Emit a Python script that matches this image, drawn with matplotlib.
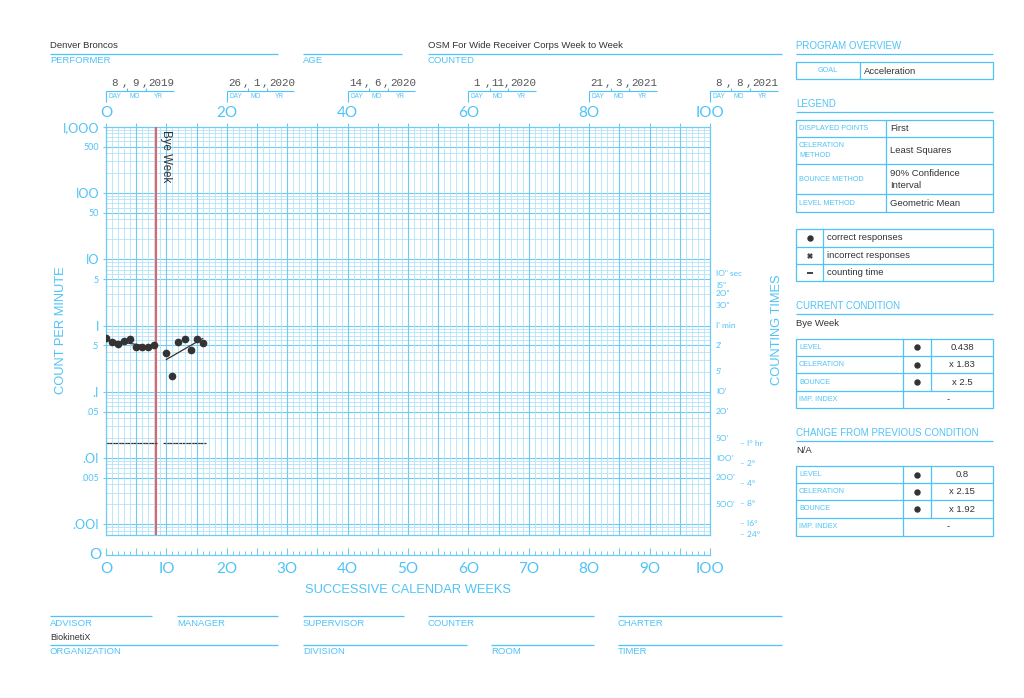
import numpy as np
import matplotlib
matplotlib.use("Agg")
import matplotlib.pyplot as plt
from matplotlib.patches import Rectangle

# ---- data -------------------------------------------------------------
weeks_before = [0, 1, 2, 3, 4, 5, 6, 7, 8]
correct_before = [0.64, 0.56, 0.52, 0.59, 0.62, 0.47, 0.47, 0.48, 0.50]
weeks_after = [10, 11, 12, 13, 14, 15, 16]
correct_after = [0.38, 0.17, 0.57, 0.62, 0.42, 0.62, 0.55]
counting_time_min = 60
phase_change_week = 8.35
phase_label = "Bye Week"

date_weeks = [0, 20, 40, 60, 80, 100]
date_days = ["8", "26", "14", "1", "21", "8"]
date_months = ["9", "1", "6", "11", "3", "8"]
date_years = ["2019", "2020", "2020", "2020", "2021", "2021"]

top_weeks = [0, 20, 40, 60, 80, 100]
top_labels = ["O", "2O", "4O", "6O", "8O", "IOO"]
bottom_weeks = list(range(0, 101, 5))
bottom_labels = ["O", "", "IO", "", "2O", "", "3O", "", "4O", "", "5O", "",
                 "6O", "", "7O", "", "8O", "", "9O", "", "IOO"]

y_major_vals = [1000, 100, 10, 1, 0.1, 0.01, 0.001]
y_major_labels = ["I,OOO", "IOO", "IO", "I", ".I", ".OI", ".OOI"]
y_minor_vals = [500, 50, 5, 0.5, 0.05, 0.005]
y_minor_labels = ["500", "50", "5", ".5", ".05", ".005"]

count_minutes = [1 / 6, 1 / 4, 1 / 3, 1 / 2, 1, 2, 5, 10, 20, 50, 100, 200, 500]
count_minute_labels = ['IO" sec', 'I5"', '2O"', '3O"', "I' min", "2'", "5'",
                       "IO'", "2O'", "5O'", "IOO'", "2OO'", "5OO'"]
count_hours = [1, 2, 4, 8, 16, 24]
count_hour_labels = ["I° hr", "2°", "4°", "8°", "I6°", "24°"]

legend_rows = [("DISPLAYED POINTS", "First"),
               ("CELERATION\nMETHOD", "Least Squares"),
               ("BOUNCE METHOD", "90% Confidence\nInterval"),
               ("LEVEL METHOD", "Geometric Mean")]
symbol_rows = ["correct responses", "incorrect responses", "counting time"]
current_rows = [("LEVEL", "0.438"), ("CELERATION", "x 1.83"), ("BOUNCE", "x 2.5")]
change_rows = [("LEVEL", "0.8"), ("CELERATION", "x 2.15"), ("BOUNCE", "x 1.92")]

# ---- style ------------------------------------------------------------
BLUE = "#4fc3f7"
GRID_MAJOR = "#6fcbf3"
GRID_MINOR = "#b2e3f8"
INK = "#333333"
RED = "#e06666"
SANS = ["Liberation Sans", "DejaVu Sans"]
ROUND = ["Lato", "DejaVu Sans"]
MONO = ["Liberation Mono", "DejaVu Sans Mono"]

W_PX, H_PX = 1024, 698
AX_L, AX_R, AX_T, AX_B = 106, 710, 126.7, 534.8
PX_WEEK = (AX_R - AX_L) / 100

fig = plt.figure(figsize=(W_PX / 100, H_PX / 100), dpi=100)
page = fig.add_axes([0, 0, 1, 1])
page.set_xlim(0, W_PX)
page.set_ylim(H_PX, 0)
page.axis("off")


def txt(x, y, s, size=6.8, color=BLUE, ha="left", family=SANS, **kw):
    page.text(x, y, s, fontsize=size, color=color, ha=ha, va="center", family=family, **kw)


def rule(x0, x1, y, lw=0.9, color=BLUE):
    page.plot([x0, x1], [y, y], color=color, lw=lw, solid_capstyle="butt")


def vrule(x, y0, y1, lw=0.9, color=BLUE):
    page.plot([x, x], [y0, y1], color=color, lw=lw, solid_capstyle="butt")


def box(x0, x1, ys):
    page.add_patch(Rectangle((x0, ys[0]), x1 - x0, ys[-1] - ys[0], fill=False, ec=BLUE, lw=0.9))
    for y in ys[1:-1]:
        rule(x0, x1, y)


# ---- header form ------------------------------------------------------
txt(50, 46, "Denver Broncos", color=INK)
txt(428, 46, "OSM For Wide Receiver Corps Week to Week", color=INK)
for x0, x1, name in [(50, 278, "PERFORMER"), (303, 402, "AGE"), (428, 782, "COUNTED")]:
    rule(x0, x1, 54)
    txt(x0, 60.5, name)

# ---- footer form ------------------------------------------------------
for x0, x1, name in [(50, 152, "ADVISOR"), (177, 278, "MANAGER"), (303, 404, "SUPERVISOR"),
                     (428, 594, "COUNTER"), (618, 782, "CHARTER")]:
    rule(x0, x1, 616)
    txt(x0, 623, name)
txt(50, 637, "BiokinetiX", color=INK, size=6.5)
for x0, x1, name in [(50, 278, "ORGANIZATION"), (303, 467, "DIVISION"),
                     (491, 594, "ROOM"), (618, 782, "TIMER")]:
    rule(x0, x1, 645)
    txt(x0, 652, name)

# ---- right panel ------------------------------------------------------
PL, PR = 796, 993
txt(PL, 46, "PROGRAM OVERVIEW", size=7)
rule(PL, PR, 54)
box(PL, PR, [62.3, 79.3])
vrule(860.3, 62.3, 79.3)
txt(828, 71, "GOAL", size=5.2, ha="center")
txt(864, 71, "Acceleration", color=INK)

txt(PL, 104, "LEGEND", size=7)
rule(PL, PR, 112.3)
leg_ys = [120, 137.3, 164, 194.3, 212.3]
box(PL, PR, leg_ys)
vrule(886.3, leg_ys[0], leg_ys[-1])
for (name, val), y0, y1 in zip(legend_rows, leg_ys[:-1], leg_ys[1:]):
    yc = (y0 + y1) / 2
    txt(799, yc, name, size=5.2, linespacing=1.55)
    txt(890, yc, val, color=INK, linespacing=1.45)

sym_ys = [229.3, 246.7, 264.3, 281]
box(PL, PR, sym_ys)
vrule(823.3, sym_ys[0], sym_ys[-1])
sym_c = [(a + b) / 2 for a, b in zip(sym_ys[:-1], sym_ys[1:])]
page.plot([809.5], [sym_c[0]], "o", ms=3.6, color=INK)
page.plot([809.5], [sym_c[1]], "X", ms=4.2, color=INK, mew=0)
page.plot([809.5], [sym_c[2]], "_", ms=5, mew=1.3, color=INK)
for name, yc in zip(symbol_rows, sym_c):
    txt(827, yc, name, color=INK)


def condition_block(y_title, title, note, ys, rows):
    txt(PL, y_title, title, size=7)
    rule(PL, PR, y_title + 7.7)
    txt(PL, y_title + 17.3, note, color=INK)
    box(PL, PR, ys)
    vrule(903, ys[0], ys[-1])
    vrule(930.7, ys[0], ys[3])
    for (name, val), y0, y1 in zip(rows, ys[:3], ys[1:4]):
        yc = (y0 + y1) / 2
        txt(799, yc, name, size=5.2)
        page.plot([917], [yc], "o", ms=3.6, color=INK)
        txt(962, yc, val, color=INK, ha="center")
    yc = (ys[3] + ys[4]) / 2
    txt(799, yc, "IMP. INDEX", size=5.2)
    txt(948, yc, "-", color=INK, ha="center")


condition_block(306, "CURRENT CONDITION", phase_label,
                [338.7, 356, 373.3, 391, 408.3], current_rows)
condition_block(433.3, "CHANGE FROM PREVIOUS CONDITION", "N/A",
                [465.7, 483.3, 500.3, 517.7, 535.7], change_rows)

# ---- date brackets above the chart -----------------------------------
for w, d, m, yr in zip(date_weeks, date_days, date_months, date_years):
    x0 = AX_L + w * PX_WEEK
    rule(x0, x0 + 67.5, 91, lw=0.8)
    vrule(x0, 91, 101.7, lw=0.8)
    vrule(x0 + 21.3, 87.5, 91, lw=0.8)
    vrule(x0 + 40, 87.5, 91, lw=0.8)
    kw = dict(size=7.8, color="#555555", family=MONO)
    txt(x0 + 8, 83.5, d, ha="center", **kw)
    txt(x0 + 19, 83.5, ",", ha="center", **kw)
    txt(x0 + 29.5, 83.5, m, ha="center", **kw)
    txt(x0 + 38.5, 83.5, ",", ha="center", **kw)
    txt(x0 + 55.2, 83.5, yr, ha="center", **kw)
    txt(x0 + 2.5, 96, "DAY", size=4.7)
    txt(x0 + 24, 96, "MO", size=4.7)
    txt(x0 + 48.3, 96, "YR", size=4.7)

txt(61, 330, "COUNT PER MINUTE", size=9.3, ha="center", rotation=90)
txt(776.5, 330, "COUNTING TIMES", size=9.3, ha="center", rotation=90)
txt(408, 590, "SUCCESSIVE CALENDAR WEEKS", size=9.3, ha="center")
txt(101, 555, "O", size=11, ha="right", family=ROUND)

# ---- chart ------------------------------------------------------------
ax = fig.add_axes([AX_L / W_PX, 1 - AX_B / H_PX, (AX_R - AX_L) / W_PX, (AX_B - AX_T) / H_PX])
ax.set_facecolor("none")
ax.set_yscale("log")
ax.set_xlim(0, 100)
ax.set_ylim(1 / 1440, 1000)

for k in range(-4, 3):
    for mult in range(1, 10):
        v = mult * 10.0 ** k
        if 1 / 1440 <= v <= 1000:
            major = mult in (1, 5)
            ax.axhline(v, color=GRID_MAJOR if major else GRID_MINOR,
                       lw=0.8 if major else 0.6, zorder=1)
for w in range(0, 101):
    major = w % 5 == 0
    ax.axvline(w, color=GRID_MAJOR if major else GRID_MINOR,
               lw=0.8 if major else 0.6, zorder=1)
for s in ax.spines.values():
    s.set_color(GRID_MAJOR)
    s.set_linewidth(0.9)

ax.set_xticks(bottom_weeks)
ax.set_xticklabels([])
ax.tick_params(axis="x", top=True, bottom=False, direction="out", length=3,
               color=GRID_MAJOR, width=0.8)
ax.set_yticks(y_major_vals + y_minor_vals)
ax.set_yticklabels(y_major_labels + y_minor_labels)
ax.yaxis.set_minor_locator(matplotlib.ticker.NullLocator())
ax.tick_params(axis="y", direction="out", length=2, pad=3, color=GRID_MAJOR,
               width=0.8, labelcolor=BLUE)
for i, lab in enumerate(ax.get_yticklabels()):
    lab.set_family(ROUND)
    lab.set_fontsize(9 if i < len(y_major_vals) else 6.5)

for w, lab in zip(top_weeks, top_labels):
    ax.annotate(lab, xy=(w, 1), xycoords=("data", "axes fraction"), xytext=(0, 13.7),
                textcoords="offset pixels", ha="center", va="center",
                fontsize=11, color=BLUE, family=ROUND)

for v, lab in zip(count_minutes, count_minute_labels):
    ax.annotate(lab, xy=(1, 1 / v), xycoords=("axes fraction", "data"), xytext=(6, 0),
                textcoords="offset pixels", ha="left", va="center",
                fontsize=6, color=BLUE, family=ROUND)
for v, lab in zip(count_hours, count_hour_labels):
    ax.annotate("– " + lab, xy=(1, 1 / (v * 60)), xycoords=("axes fraction", "data"),
                xytext=(30, 0), textcoords="offset pixels", ha="left", va="center",
                fontsize=6, color=BLUE, family=ROUND)

# phase change line
ax.axvline(phase_change_week, color=RED, lw=1.5, zorder=3)
ax.annotate(phase_label, xy=(phase_change_week, 1), xycoords=("data", "axes fraction"),
            xytext=(4, -3), textcoords="offset pixels", rotation=-90,
            ha="left", va="top", fontsize=8.3, color=INK, family=SANS)

# data, celeration lines and counting-time floors
floor = 1 / counting_time_min
for wk, cnt in [(weeks_before, correct_before), (weeks_after, correct_after)]:
    wk = np.asarray(wk, dtype=float)
    cnt = np.asarray(cnt, dtype=float)
    ax.plot(wk, cnt, "o", ms=4.5, color=INK, zorder=5)
    slope, icept = np.polyfit(wk, np.log10(cnt), 1)
    ends = np.array([wk.min(), wk.max()])
    ax.plot(ends, 10 ** (icept + slope * ends), color=INK, lw=0.9, zorder=4)
    ax.hlines(np.full(wk.size, floor), wk - 0.5, wk + 0.5, color=INK, lw=0.9,
              linestyles=(0, (2.2, 0.8)), zorder=4)

# ---- zero row ---------------------------------------------------------
zax = fig.add_axes([AX_L / W_PX, 1 - 555.3 / H_PX, (AX_R - AX_L) / W_PX, 7 / H_PX])
zax.set_facecolor("none")
zax.set_xlim(0, 100)
for name in ("top", "left", "right"):
    zax.spines[name].set_visible(False)
zax.spines["bottom"].set_color(GRID_MAJOR)
zax.spines["bottom"].set_linewidth(0.9)
zax.set_yticks([])
zax.set_xticks(bottom_weeks)
zax.set_xticklabels(bottom_labels, fontsize=11, color=BLUE, family=ROUND)
zax.set_xticks(range(0, 101), minor=True)
zax.tick_params(axis="x", which="major", direction="in", length=5, width=0.8,
                color=GRID_MAJOR, pad=5)
zax.tick_params(axis="x", which="minor", direction="in", length=3.2, width=0.7,
                color=GRID_MAJOR)

fig.savefig("out.png", dpi=100)
